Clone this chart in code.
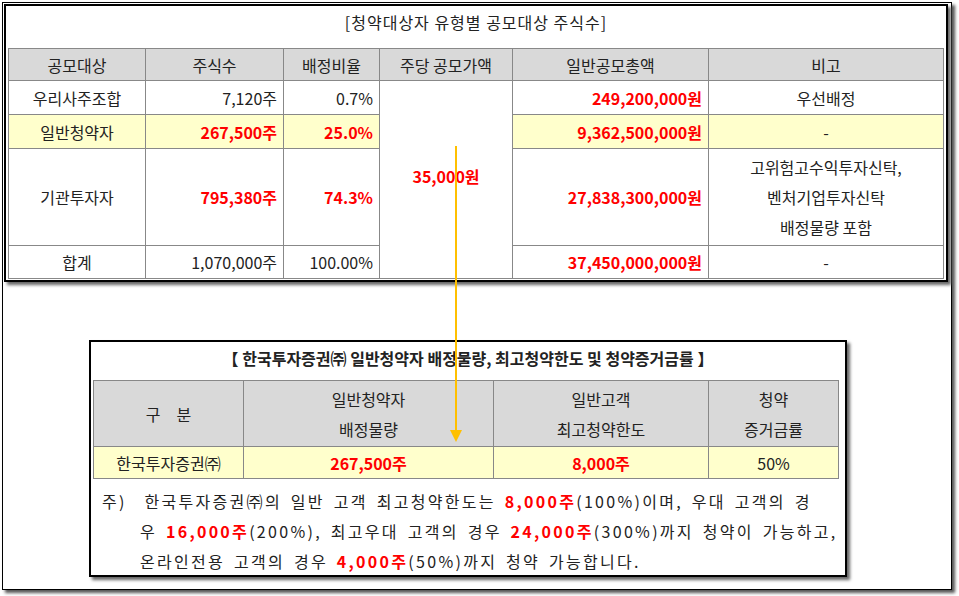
<!DOCTYPE html>
<html><head><meta charset="utf-8">
<script src="https://cdn.jsdelivr.net/npm/chart.js@4.4.0/dist/chart.umd.min.js"></script>
<style>
body{margin:0;width:959px;height:596px;background:#fff;font-family:"Noto Sans CJK KR",sans-serif;font-size:16px;color:#222;position:relative;overflow:hidden}
.frame{position:absolute;left:2px;top:2px;width:948px;height:586px;border:1px solid #000;box-shadow:3px 3px 3px #555}
.box{position:absolute;border:2px solid #000;background:#fff;box-shadow:3px 3px 3px #666}
table{border-collapse:collapse;position:absolute;table-layout:fixed}
td{border:1px solid #888;padding:0 6px;white-space:nowrap;line-height:26px}
.h td{background:#d9d9d9;text-align:center}
.y td{background:#ffffcc}
.r{color:#f00;font-weight:bold}
.c{text-align:center}.rt{text-align:right}
.title{position:absolute;text-align:center}
.note{position:absolute;left:102px;top:486px;line-height:30px;font-size:16px;letter-spacing:2.3px;word-spacing:3px;white-space:nowrap}
</style></head><body>
<div class="frame"></div>
<div class="box" style="left:4px;top:4px;width:940px;height:274px"></div>
<div class="title" style="left:6px;top:10px;width:940px;letter-spacing:1px">[청약대상자 유형별 공모대상 주식수]</div>
<table id="t1" style="left:8px;top:48px"></table>
<div class="box" style="left:89px;top:340px;width:754px;height:233px"></div>
<div class="title" style="left:91px;top:346px;width:754px;font-weight:bold">【 한국투자증권㈜ 일반청약자 배정물량, 최고청약한도 및 청약증거금률 】</div>
<table id="t2" style="left:93px;top:380px"></table>
<div class="note" id="note"></div>
<canvas id="arrow" width="20" height="300" style="position:absolute;left:446px;top:146px"></canvas>
<script>
const headers1 = ['공모대상','주식수','배정비율','주당 공모가액','일반공모총액','비고'];
const targets = ['우리사주조합','일반청약자','기관투자자','합계'];
const shares = ['7,120주','267,500주','795,380주','1,070,000주'];
const ratios = ['0.7%','25.0%','74.3%','100.00%'];
const totals = ['249,200,000원','9,362,500,000원','27,838,300,000원','37,450,000,000원'];
const remarks = ['우선배정','-','고위험고수익투자신탁,<br>벤처기업투자신탁<br>배정물량 포함','-'];
const price = '35,000원';
const widths1 = [137,138,96,133,196,235];
const heights1 = [34,34,97,33];

const headers2 = ['구　분','일반청약자<br>배정물량','일반고객<br>최고청약한도','청약<br>증거금률'];
const row2 = ['한국투자증권㈜','267,500주','8,000주','50%'];
const widths2 = [150,250,215,130];

let t1 = document.getElementById('t1');
let h = '<colgroup>' + widths1.map(w => `<col style="width:${w}px">`).join('') + '</colgroup>';
h += '<tr class="h" style="height:32px">' + headers1.map(x => `<td>${x}</td>`).join('') + '</tr>';
targets.forEach((t, i) => {
  let red = (i == 1 || i == 2) ? ' r' : '';
  h += `<tr class="${i == 1 ? 'y' : ''}" style="height:${heights1[i]}px"><td class="c">${t}</td>` +
    `<td class="rt${red}">${shares[i]}</td><td class="rt${red}">${ratios[i]}</td>` +
    (i == 0 ? '' : i == 1 ? `<td rowspan="3" class="c r" style="background:#fff;vertical-align:top;padding-top:14px">${price}</td>` : '') +
    (i == 0 ? '<td></td>' : '') +
    `<td class="rt r">${totals[i]}</td><td class="c" style="line-height:30px">${remarks[i]}</td></tr>`;
});
t1.innerHTML = h;
t1.rows[1].cells[3].style.borderBottom = 'none';
t1.rows[1].cells[3].style.background = '#fff';
t1.rows[2].cells[3].style.borderTop = 'none';
t1.rows[2].cells[3].style.paddingTop = '48px';

let t2 = document.getElementById('t2');
let g = '<colgroup>' + widths2.map(w => `<col style="width:${w}px">`).join('') + '</colgroup>';
g += '<tr class="h" style="height:66px">' + headers2.map(x => `<td style="line-height:30px">${x}</td>`).join('') + '</tr>';
g += '<tr class="y" style="height:32px">' + row2.map((x, i) => `<td class="c${i == 1 || i == 2 ? ' r' : ''}">${x}</td>`).join('') + '</tr>';
t2.innerHTML = g;

document.getElementById('note').innerHTML =
  '주)&nbsp;&nbsp;한국투자증권㈜의 일반 고객 최고청약한도는 <span class="r">8,000주</span>(100%)이며, 우대 고객의 경우<br>'.replace('경우<br>', '경<br>') +
  '<span style="padding-left:38px">우 <span class="r">16,000주</span>(200%), 최고우대 고객의 경우 <span class="r">24,000주</span>(300%)까지 청약이 가능하고,</span><br>' +
  '<span style="padding-left:38px">온라인전용 고객의 경우 <span class="r">4,000주</span>(50%)까지 청약 가능합니다.</span>';

let c = document.getElementById('arrow').getContext('2d');
c.strokeStyle = '#ffc000'; c.fillStyle = '#ffc000'; c.lineWidth = 2;
c.beginPath(); c.moveTo(10, 0); c.lineTo(10, 285); c.stroke();
c.beginPath(); c.moveTo(4, 284); c.lineTo(16, 284); c.lineTo(10, 296); c.fill();
</script>
</body></html>
